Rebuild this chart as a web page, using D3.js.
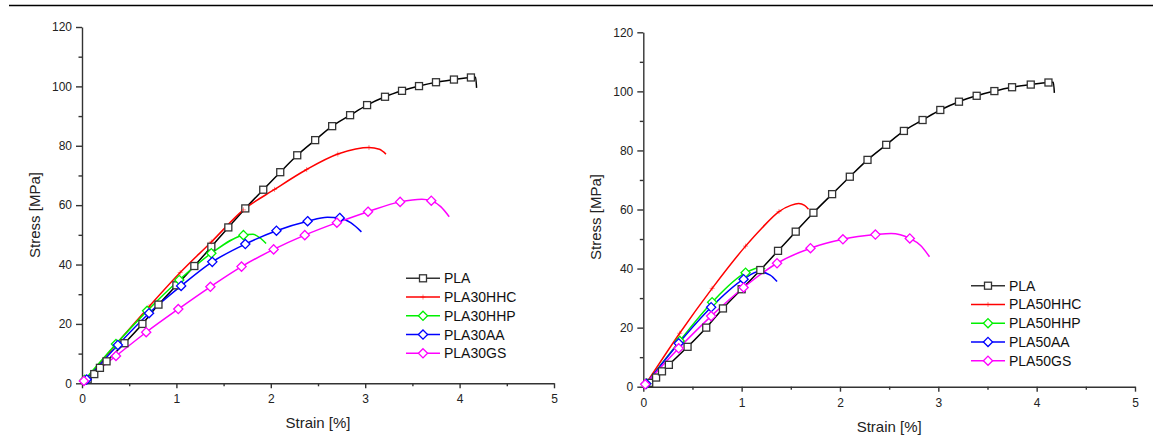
<!DOCTYPE html>
<html>
<head>
<meta charset="utf-8">
<script src="https://cdn.jsdelivr.net/npm/d3@7"></script>
<style>
  body { margin: 0; background: #fff; }
  svg { display: block; font-family: "Liberation Sans", Arial, sans-serif; }
  .axis path, .axis line { stroke: #333; stroke-width: 1.4; }
  .axis text { font-size: 12px; fill: #222; }
  .title { font-size: 15px; fill: #222; }
  .legend text { font-size: 14px; fill: #111; }
</style>
</head>
<body>
<svg id="chart" width="1154" height="441"></svg>
<script>
// tick values
const strainTicks = [0, 1, 2, 3, 4, 5];
const strainMinor = [0.5, 1.5, 2.5, 3.5, 4.5];
const stressTicks = [0, 20, 40, 60, 80, 100, 120];
const stressMinor = [10, 30, 50, 70, 90, 110];

// [strain %, stress MPa, marker?]
const pla = [
  [0.03, 0.3, 0], [0.06, 1.3, 1], [0.13, 3.1, 1], [0.19, 5.2, 1], [0.26, 7.4, 1],
  [0.45, 13.5, 1], [0.64, 20.0, 1], [0.81, 26.5, 1], [1.00, 33.0, 1], [1.19, 39.5, 1],
  [1.37, 46.0, 1], [1.55, 52.5, 1], [1.73, 58.9, 1], [1.92, 65.2, 1], [2.10, 71.1, 1],
  [2.28, 76.8, 1], [2.47, 81.9, 1], [2.65, 86.6, 1], [2.84, 90.3, 1], [3.02, 93.7, 1],
  [3.21, 96.5, 1], [3.39, 98.5, 1], [3.57, 100.1, 1], [3.75, 101.4, 1], [3.94, 102.3, 1],
  [4.12, 103.0, 1], [4.17, 103.1, 0], [4.18, 99.5, 0]
];
const pla30hhc = [
  [0.02, 0.5, 0], [0.37, 13.5, 1], [0.71, 25.8, 1], [1.04, 37.3, 1], [1.37, 47.6, 1],
  [1.71, 58.4, 1], [2.04, 65.3, 1], [2.38, 72.0, 1], [2.71, 77.2, 1], [2.90, 78.9, 0],
  [3.04, 79.4, 1], [3.15, 78.8, 0], [3.22, 77.2, 0]
];
const pla30hhp = [
  [0.03, 1.2, 1], [0.36, 13.2, 1], [0.69, 24.4, 1], [1.03, 34.8, 1], [1.37, 43.8, 1],
  [1.71, 49.9, 1], [1.81, 50.2, 0], [1.90, 48.6, 0], [1.95, 47.1, 0]
];
const pla30aa = [
  [0.05, 1.3, 1], [0.38, 12.9, 1], [0.71, 23.6, 1], [1.05, 32.8, 1], [1.38, 40.9, 1],
  [1.73, 46.9, 1], [2.06, 51.4, 1], [2.39, 54.6, 1], [2.60, 55.9, 0], [2.73, 55.7, 1],
  [2.85, 54.0, 0], [2.96, 51.0, 0]
];
const pla30gs = [
  [0.02, 0.8, 1], [0.36, 9.2, 1], [0.68, 17.2, 1], [1.02, 25.0, 1], [1.36, 32.5, 1],
  [1.69, 39.3, 1], [2.03, 45.1, 1], [2.36, 49.9, 1], [2.70, 54.1, 1], [3.03, 57.8, 1],
  [3.37, 61.1, 1], [3.60, 62.0, 0], [3.70, 61.5, 1], [3.80, 59.5, 0], [3.89, 56.1, 0]
];
const pla50hhc = [
  [0.02, 0.6, 0], [0.37, 18.1, 1], [0.70, 33.3, 1], [1.04, 47.6, 1], [1.20, 53.5, 0],
  [1.38, 59.3, 1], [1.50, 61.4, 0], [1.58, 62.0, 0], [1.64, 61.4, 0], [1.68, 60.1, 0]
];
const pla50hhp = [
  [0.03, 1.0, 1], [0.37, 15.5, 1], [0.70, 28.6, 1], [1.04, 38.6, 1], [1.19, 40.4, 0],
  [1.24, 39.9, 0]
];
const pla50aa = [
  [0.03, 1.0, 1], [0.36, 14.7, 1], [0.69, 26.9, 1], [1.02, 36.4, 1], [1.17, 38.9, 0],
  [1.29, 37.8, 0], [1.36, 35.6, 0]
];
const pla50gs = [
  [0.02, 0.8, 1], [0.36, 13.0, 1], [0.69, 23.9, 1], [1.02, 33.6, 1], [1.36, 41.8, 1],
  [1.70, 46.9, 1], [2.03, 49.9, 1], [2.36, 51.5, 1], [2.52, 51.9, 0], [2.71, 50.2, 1],
  [2.82, 47.8, 0], [2.91, 44.0, 0]
];

const colors = ["#000000", "#ff0000", "#00f000", "#0000ff", "#ff00ff"];
const shapes = ["square", "plus", "diamond", "diamond", "diamond"];
const leftNames = ["PLA", "PLA30HHC", "PLA30HHP", "PLA30AA", "PLA30GS"];
const rightNames = ["PLA", "PLA50HHC", "PLA50HHP", "PLA50AA", "PLA50GS"];
const leftData = [pla, pla30hhc, pla30hhp, pla30aa, pla30gs];
const rightData = [pla, pla50hhc, pla50hhp, pla50aa, pla50gs];

const svg = d3.select("#chart");

svg.append("line")
  .attr("x1", 9).attr("x2", 1153).attr("y1", 5.5).attr("y2", 5.5)
  .attr("stroke", "#000").attr("stroke-width", 1.5);

function drawMarker(g, shape, color, x, y) {
  if (shape === "square") {
    g.append("rect").attr("x", x - 3.5).attr("y", y - 3.5)
      .attr("width", 7).attr("height", 7)
      .attr("fill", "#fff").attr("stroke", "#333").attr("stroke-width", 1.3);
  } else if (shape === "diamond") {
    g.append("path")
      .attr("d", `M${x},${y - 4.6}L${x + 4.6},${y}L${x},${y + 4.6}L${x - 4.6},${y}Z`)
      .attr("fill", "#fff").attr("stroke", color).attr("stroke-width", 1.3);
  } else {
    g.append("path")
      .attr("d", `M${x - 2.5},${y}H${x + 2.5}M${x},${y - 2.5}V${y + 2.5}`)
      .attr("stroke", color).attr("stroke-width", 0.8).attr("stroke-opacity", 0.6);
  }
}

class StressStrainChart {
  constructor(svg, opts) {
    this.svg = svg;
    this.opts = opts;
  }

  draw(series, names) {
    const o = this.opts;
    const g = this.svg.append("g");
    const x = d3.scaleLinear().domain([0, 5]).range([o.x0, o.x1]);
    const y = d3.scaleLinear().domain([0, 120]).range([o.y0, o.y1]);

    // minor ticks
    g.append("g").attr("class", "axis")
      .attr("transform", `translate(0,${o.y0})`)
      .call(d3.axisBottom(x).tickValues(strainMinor).tickSize(3).tickSizeOuter(0).tickFormat(""))
      .select(".domain").remove();
    g.append("g").attr("class", "axis")
      .attr("transform", `translate(${o.x0},0)`)
      .call(d3.axisLeft(y).tickValues(stressMinor).tickSize(3.5).tickSizeOuter(0).tickFormat(""))
      .select(".domain").remove();

    g.append("g").attr("class", "axis")
      .attr("transform", `translate(0,${o.y0})`)
      .call(d3.axisBottom(x).tickValues(strainTicks).tickSize(5).tickSizeOuter(0).tickPadding(6.5).tickFormat(d3.format("d")));
    g.append("g").attr("class", "axis")
      .attr("transform", `translate(${o.x0},0)`)
      .call(d3.axisLeft(y).tickValues(stressTicks).tickSize(6).tickSizeOuter(0).tickPadding(4));

    g.append("text").attr("class", "title")
      .attr("x", (o.x0 + o.x1) / 2).attr("y", o.xTitleY)
      .attr("text-anchor", "middle").text("Strain [%]");
    g.append("text").attr("class", "title")
      .attr("transform", `translate(${o.yTitleX},${o.yTitleY}) rotate(-90)`)
      .attr("text-anchor", "middle").text("Stress [MPa]");

    const line = d3.line()
      .x(d => x(d[0]))
      .y(d => y(d[1]))
      .curve(d3.curveMonotoneX);

    series.forEach((data, i) => {
      g.append("path")
        .datum(data)
        .attr("d", line)
        .attr("fill", "none")
        .attr("stroke", colors[i])
        .attr("stroke-width", 1.5);
    });
    series.forEach((data, i) => {
      const mg = g.append("g");
      data.filter(d => d[2]).forEach(d => drawMarker(mg, shapes[i], colors[i], x(d[0]), y(d[1])));
    });

    // legend
    const lg = g.append("g").attr("class", "legend");
    names.forEach((name, i) => {
      const ly = o.legY + i * 18.75;
      lg.append("line")
        .attr("x1", o.legX).attr("x2", o.legX + 34)
        .attr("y1", ly).attr("y2", ly)
        .attr("stroke", i === 0 ? "#333" : colors[i]).attr("stroke-width", 1.6);
      drawMarker(lg, shapes[i], colors[i], o.legX + 17, ly);
      lg.append("text")
        .attr("x", o.legX + 38).attr("y", ly).attr("dy", "0.36em")
        .text(name);
    });
  }
}

new StressStrainChart(svg, {
  x0: 82, x1: 554, y0: 383.3, y1: 27,
  xTitleY: 428, yTitleX: 40, yTitleY: 215,
  legX: 406, legY: 278.3
}).draw(leftData, leftNames);

new StressStrainChart(svg, {
  x0: 643.3, x1: 1135, y0: 386.7, y1: 32.3,
  xTitleY: 432, yTitleX: 601, yTitleY: 217,
  legX: 971, legY: 285.7
}).draw(rightData, rightNames);
</script>
</body>
</html>
